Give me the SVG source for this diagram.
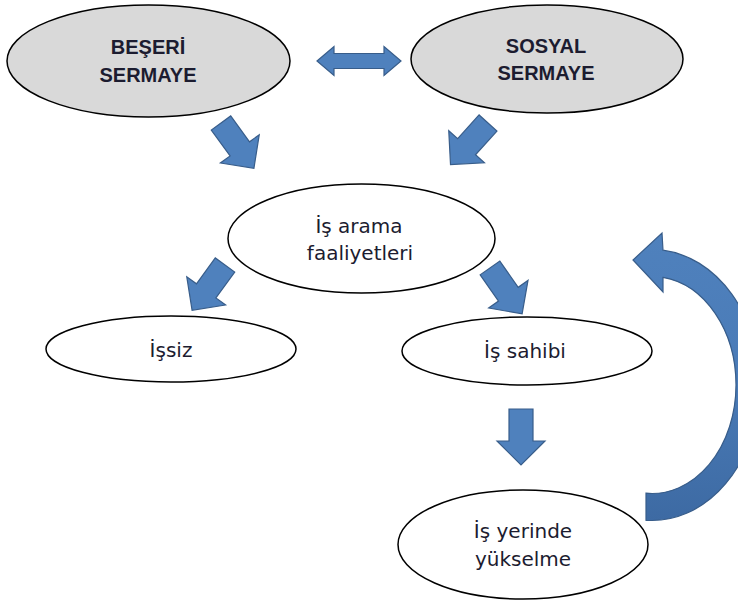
<svg xmlns="http://www.w3.org/2000/svg" xmlns:xlink="http://www.w3.org/1999/xlink" width="738" height="601" viewBox="0 0 738 601">
<style>
.title{font-family:"Liberation Sans",Arial,sans-serif;font-weight:bold;font-size:20px;fill:#1c1c30;text-anchor:middle}
.lbl{font-family:"DejaVu Sans",Verdana,sans-serif;font-size:20px;fill:#1c1c30;text-anchor:middle}
.grey{fill:#d9d9d9;stroke:#000;stroke-width:1.5}
.white{fill:#fff;stroke:#000;stroke-width:1.5}
.arr{fill:#4f81bd;stroke:#385d8a;stroke-width:1.2;stroke-linejoin:miter}
</style>
<defs>
<path id="blk" d="M0,-12 L32,-12 L32,-24 L56,0 L32,24 L32,12 L0,12 Z"/>
<linearGradient id="curveGrad" x1="0" y1="0" x2="0" y2="1">
<stop offset="0" stop-color="#4f81bd"/>
<stop offset="0.5" stop-color="#4a7bb7"/>
<stop offset="1" stop-color="#3d6aa3"/>
</linearGradient>
</defs>
<rect width="738" height="601" fill="#fff"/>
<g id="connectors">
<path class="arr" d="M317,61 L334,46.5 L334,53.5 L384,53.5 L384,46.5 L401,61 L384,75.5 L384,68.5 L334,68.5 L334,75.5 Z"/>
<use xlink:href="#blk" href="#blk" class="arr" transform="translate(221,123) rotate(54)"/>
<use xlink:href="#blk" href="#blk" class="arr" transform="translate(488,123) rotate(132)"/>
<use xlink:href="#blk" href="#blk" class="arr" transform="translate(225,265) rotate(126)"/>
<use xlink:href="#blk" href="#blk" class="arr" transform="translate(490,268) rotate(55)"/>
<use xlink:href="#blk" href="#blk" class="arr" transform="translate(521,409) rotate(90)"/>
<path class="arr" fill="url(#curveGrad)" style="fill:url(#curveGrad)" d="M646,520.3 A107.5,135.5 0 0 0 759.5,385 A107.5,135.5 0 0 0 663,250.2 L662,233 L633,260 L663,292 L663,277.4 A84,108.5 0 0 1 736,385 A84,108.5 0 0 1 646,493.2 Z"/>
</g>
<g id="beseri">
<ellipse class="grey" cx="148.5" cy="61" rx="141.5" ry="56"/>
<text class="title" x="148" y="54">BEŞERİ</text>
<text class="title" x="148" y="82">SERMAYE</text>
</g>
<g id="sosyal">
<ellipse class="grey" cx="547" cy="59" rx="136" ry="54"/>
<text class="title" x="546" y="53">SOSYAL</text>
<text class="title" x="546" y="80">SERMAYE</text>
</g>
<g id="is-arama">
<ellipse class="white" cx="361.5" cy="238.5" rx="133.5" ry="54.5"/>
<text class="lbl" x="359" y="233">İş arama</text>
<text class="lbl" x="360" y="260">faaliyetleri</text>
</g>
<g id="issiz">
<ellipse class="white" cx="171" cy="349" rx="125" ry="33"/>
<text class="lbl" x="171" y="357">İşsiz</text>
</g>
<g id="is-sahibi">
<ellipse class="white" cx="527" cy="351" rx="125" ry="34"/>
<text class="lbl" x="525" y="358">İş sahibi</text>
</g>
<g id="is-yerinde">
<ellipse class="white" cx="523" cy="544.5" rx="125" ry="54.5"/>
<text class="lbl" x="523" y="538">İş yerinde</text>
<text class="lbl" x="523" y="566">yükselme</text>
</g>
</svg>
